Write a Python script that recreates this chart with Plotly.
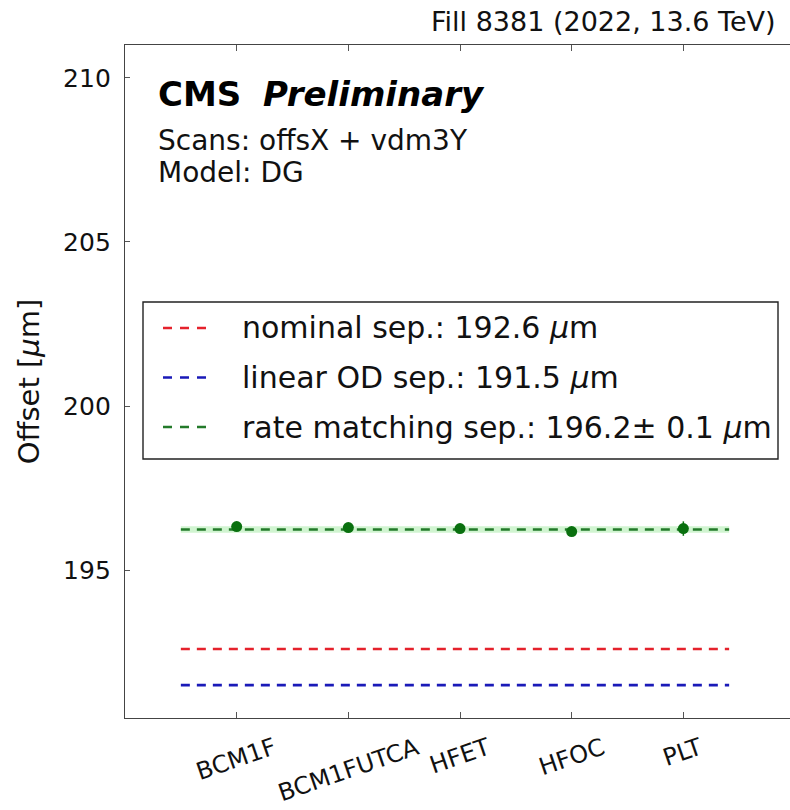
import plotly.graph_objects as go

# Per-detector fitted offsets (um) from rate matching
detectors = ["BCM1F", "BCM1FUTCA", "HFET", "HFOC", "PLT"]
offsets = [196.33, 196.30, 196.27, 196.18, 196.27]
offset_errors = [0.05, 0.04, 0.04, 0.04, 0.22]

# Reference separations (um)
nominal_sep = 192.6
linear_od_sep = 191.5
rate_match_sep = 196.24
rate_match_err = 0.1

legend_labels = [
    "nominal sep.: 192.6 <i>μ</i>m",
    "linear OD sep.: 191.5 <i>μ</i>m",
    "rate matching sep.: 196.2± 0.1 <i>μ</i>m",
]
RED, BLUE, GREEN, PT = "#e5222c", "#1a1ab8", "#237a2a", "#0a700f"
legend_colors = [RED, BLUE, GREEN]

x_idx = list(range(len(detectors)))
line_x = [-0.5, 4.41]

FONT = "DejaVu Sans"
W, H = 790, 810
M_L, M_R, M_T, M_B = 125, 0, 45, 92
PW, PH = W - M_L - M_R, H - M_T - M_B


def px(x):
    return (x - M_L) / PW


def py(y):
    return (H - M_B - y) / PH


fig = go.Figure()

# uncertainty band of the rate-matching separation
fig.add_trace(go.Scatter(
    x=line_x + line_x[::-1],
    y=[rate_match_sep + rate_match_err] * 2 + [rate_match_sep - rate_match_err] * 2,
    fill="toself", fillcolor="rgba(150,230,150,0.45)", line=dict(width=0),
    mode="lines", hoverinfo="skip", showlegend=False,
))

for val, col in zip([nominal_sep, linear_od_sep, rate_match_sep], legend_colors):
    fig.add_trace(go.Scatter(
        x=line_x, y=[val] * 2, mode="lines",
        line=dict(color=col, width=2.6, dash="9px,7px"), showlegend=False,
    ))

# detector points with error bars
fig.add_trace(go.Scatter(
    x=x_idx, y=offsets, mode="markers",
    marker=dict(color=PT, size=11),
    error_y=dict(type="data", array=offset_errors, color=PT, thickness=1.5, width=0),
    showlegend=False,
))

# legend box
shapes = [dict(type="rect", xref="paper", yref="paper",
               x0=px(143), x1=px(778), y0=py(459), y1=py(302),
               line=dict(color="#222", width=1.4), fillcolor="white", layer="above")]
annotations = []
for k, (lab, col) in enumerate(zip(legend_labels, legend_colors)):
    yc = 328 + k * 49.5
    shapes.append(dict(type="line", xref="paper", yref="paper",
                       x0=px(163), x1=px(206), y0=py(yc), y1=py(yc),
                       line=dict(color=col, width=2.6, dash="9px,8px"), layer="above"))
    annotations.append(dict(x=px(240), y=py(yc), xref="paper", yref="paper",
                            xanchor="left", yanchor="middle", showarrow=False, text=lab,
                            font=dict(family=FONT, size=30, color="#111")))

# rotated detector labels under the ticks
for i, name in zip(x_idx, detectors):
    annotations.append(dict(
        x=i, y=0, xref="x", yref="paper", text=name, showarrow=False,
        textangle=-19, xanchor="center", yanchor="top", yshift=-12,
        font=dict(family=FONT, size=24, color="#111"),
    ))

annotations += [
    dict(x=px(778), y=py(22), xref="paper", yref="paper", xanchor="right", yanchor="middle",
         showarrow=False, text="Fill 8381 (2022, 13.6 TeV)",
         font=dict(family=FONT, size=27, color="#111")),
    dict(x=px(156), y=py(94), xref="paper", yref="paper", xanchor="left", yanchor="middle",
         showarrow=False, text="<b>CMS</b>  <b><i>Preliminary</i></b>",
         font=dict(family=FONT, size=34, color="#000")),
    dict(x=px(156), y=py(140), xref="paper", yref="paper", xanchor="left", yanchor="middle",
         showarrow=False, text="Scans: offsX + vdm3Y",
         font=dict(family=FONT, size=28, color="#111")),
    dict(x=px(156), y=py(172), xref="paper", yref="paper", xanchor="left", yanchor="middle",
         showarrow=False, text="Model: DG",
         font=dict(family=FONT, size=28, color="#111")),
]

fig.update_layout(
    width=W, height=H,
    margin=dict(l=M_L, r=M_R, t=M_T, b=M_B),
    plot_bgcolor="white", paper_bgcolor="white",
    font=dict(family=FONT, size=25, color="#111"),
    showlegend=False,
    shapes=shapes, annotations=annotations,
    xaxis=dict(
        range=[-1, 4.955], tickvals=x_idx, showticklabels=False,
        ticks="inside", ticklen=6, tickcolor="#555",
        showline=True, linecolor="#444", linewidth=1.4, mirror="ticks",
        showgrid=False, zeroline=False,
    ),
    yaxis=dict(
        range=[190.5, 211.0], tickvals=[195, 200, 205, 210],
        ticks="inside", ticklen=5, tickcolor="#555",
        showline=True, linecolor="#444", linewidth=1.4,
        showgrid=False, zeroline=False, ticklabelstandoff=8,
        title=dict(text="Offset [<i>μ</i>m]", standoff=14, font=dict(family=FONT, size=29)),
        tickfont=dict(family=FONT, size=25),
    ),
)

fig.write_html("out.html")
